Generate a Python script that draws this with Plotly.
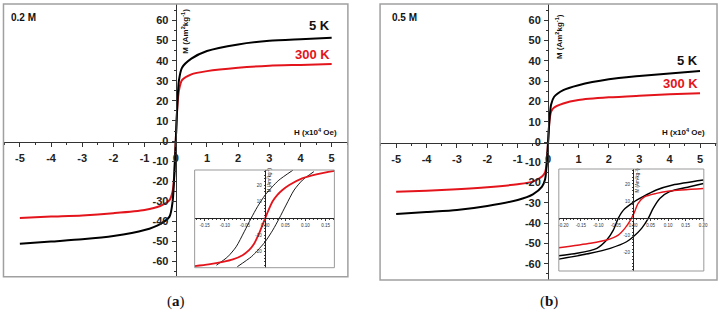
import plotly.graph_objects as go

W, H = 724, 313

# ---------------- data ----------------
H_main = [-5, -4, -3, -2, -1, -0.5, -0.2, -0.1, -0.05, 0, 0.05, 0.1, 0.2, 0.5, 1, 2, 3, 4, 5]
a_5K = [-51.1, -50.0, -48.9, -47.3, -44.3, -41.3, -37.6, -30.0, -18.0, 0, 18.0, 30.0, 36.5, 41.0, 44.8, 48.1, 49.9, 50.7, 51.4]
a_300K = [-38.3, -37.6, -37.0, -35.9, -34.3, -32.3, -29.4, -25.0, -17.0, 0, 17.0, 25.0, 30.3, 33.2, 34.8, 36.5, 37.5, 37.9, 38.3]
b_5K = [-35.5, -34.5, -33.5, -31.5, -28.6, -25.8, -22.0, -18.5, -12.0, 0, 12.0, 18.5, 22.3, 25.6, 28.0, 30.9, 32.5, 33.8, 35.0]
b_300K = [-24.5, -24.0, -23.3, -22.3, -20.8, -19.5, -17.0, -15.0, -11.0, 0, 11.0, 15.0, 17.0, 19.0, 20.7, 22.0, 22.8, 23.5, 24.0]
main_ticks = [-5, -4, -3, -2, -1, 0, 1, 2, 3, 4, 5]
main_yticks = [-60, -50, -40, -30, -20, -10, 0, 10, 20, 30, 40, 50, 60]

# inset (a): 5 K loop branches and 300 K curve
ia_5K_down_H = [0.069, 0.034, 0.018, 0.0, -0.019, -0.035, -0.052, -0.072, -0.093, -0.121]
ia_5K_down_M = [28.9, 22.9, 19.0, 14.0, 7.0, 0.0, -8.0, -17.0, -23.0, -28.0]
ia_5K_up_H = [-0.069, -0.034, -0.018, 0.0, 0.019, 0.035, 0.052, 0.072, 0.093, 0.121]
ia_5K_up_M = [-28.9, -22.9, -19.0, -14.0, -7.0, 0.0, 8.0, 17.0, 23.0, 28.0]
ia_300K_H = [-0.175, -0.14, -0.105, -0.08, -0.056, -0.04, -0.027, -0.015, -0.005, 0, 0.005, 0.018, 0.03, 0.043, 0.06, 0.092, 0.13, 0.172]
ia_300K_M = [-28.5, -27.5, -26.0, -24.5, -22.0, -19.0, -15.0, -9.0, -3.0, 0, 3.0, 10.0, 14.0, 17.0, 20.0, 24.0, 26.5, 28.5]

# inset (b)
ib_5K_down_H = [0.201, 0.113, 0.066, 0.028, 0.0, -0.028, -0.043, -0.057, -0.076, -0.104, -0.161, -0.213]
ib_5K_down_M = [22.3, 19.4, 16.5, 12.6, 9.3, 4.8, 0.0, -6.8, -12.6, -17.4, -20.3, -21.7]
ib_5K_up_H = [-0.213, -0.123, -0.066, -0.019, 0.0, 0.024, 0.043, 0.057, 0.076, 0.104, 0.161, 0.201]
ib_5K_up_M = [-23.7, -20.3, -17.4, -13.6, -10.7, -5.8, 0.0, 5.8, 11.6, 15.5, 18.4, 20.3]
ib_300K_H = [-0.213, -0.123, -0.076, -0.043, -0.024, -0.008, 0.002, 0.014, 0.033, 0.066, 0.104, 0.201]
ib_300K_M = [-17.1, -14.5, -12.6, -9.7, -5.8, -1.0, 2.9, 8.7, 12.6, 14.5, 15.9, 17.4]
ia_xt = [-0.15, -0.10, -0.05, 0.00, 0.05, 0.10, 0.15]
ib_xt = [-0.20, -0.15, -0.10, -0.05, 0.00, 0.05, 0.10, 0.15, 0.20]
inset_yt = [-20, -10, 10, 20]

BLACK = "#000000"
RED = "#e3141b"

def px(x):
    return x / W

def py(y):
    return 1 - y / H

fig = go.Figure()

def line(x, y, color, width, xa, ya, sm=0.7):
    fig.add_trace(go.Scatter(x=x, y=y, mode="lines", line=dict(color=color, width=width, shape="spline", smoothing=sm),
                             xaxis=xa, yaxis=ya, showlegend=False, hoverinfo="skip"))

line(H_main, a_300K, RED, 2, "x", "y")
line(H_main, a_5K, BLACK, 2, "x", "y")
line(ia_5K_down_H, ia_5K_down_M, BLACK, 0.9, "x2", "y2")
line(ia_5K_up_H, ia_5K_up_M, BLACK, 0.9, "x2", "y2")
line(ia_300K_H, ia_300K_M, RED, 1.8, "x2", "y2")
line(H_main, b_300K, RED, 2, "x3", "y3")
line(H_main, b_5K, BLACK, 2, "x3", "y3")
line(ib_5K_down_H, ib_5K_down_M, BLACK, 1.4, "x4", "y4")
line(ib_5K_up_H, ib_5K_up_M, BLACK, 1.4, "x4", "y4")
line(ib_300K_H, ib_300K_M, RED, 1.4, "x4", "y4")

TF = "Liberation Sans Narrow, Liberation Sans, Arial"
tickfont = dict(family=TF, size=11, color="#222", weight="bold")
smallfont = dict(family="Liberation Sans", size=4.5, color="#333")

def lab(v, fmt="%g"):
    return (fmt % v).replace("\u2212", "-")

def main_x(dom, rng, pos):
    return dict(domain=dom, range=rng, anchor="free", position=pos, showgrid=False, zeroline=False,
                showline=True, linecolor="#333", linewidth=1.3, ticks="outside", ticklen=4, tickwidth=1.2,
                tickcolor="#333", tickvals=main_ticks, ticktext=[lab(v) for v in main_ticks],
                tickfont=tickfont, ticklabelstandoff=2,
                minor=dict(ticks="outside", ticklen=2, dtick=0.5, tick0=0, tickcolor="#333"))

def main_y(dom, rng, pos):
    return dict(domain=dom, range=rng, anchor="free", position=pos, showgrid=False, zeroline=False,
                showline=True, linecolor="#333", linewidth=1.3, ticks="outside", ticklen=4, tickwidth=1.2,
                tickcolor="#333", tickvals=main_yticks, ticktext=[lab(v) for v in main_yticks],
                tickfont=tickfont, ticklabelstandoff=1,
                minor=dict(ticks="outside", ticklen=2, dtick=5, tick0=0, tickcolor="#333"))

def inset_x(dom, rng, pos, vals):
    return dict(domain=dom, range=rng, anchor="free", position=pos, showgrid=False, zeroline=False,
                showline=True, linecolor="#222", linewidth=1, ticks="outside", ticklen=1.5, tickwidth=0.6,
                tickvals=vals, ticktext=[lab(v, "%.2f") for v in vals], tickfont=smallfont, ticklabelstandoff=1,
                minor=dict(ticks="outside", ticklen=1, dtick=0.01, tick0=0))

def inset_y(dom, rng, pos, vals):
    return dict(domain=dom, range=rng, anchor="free", position=pos, showgrid=False, zeroline=False,
                showline=True, linecolor="#222", linewidth=1, ticks="outside", ticklen=1.5, tickwidth=0.6,
                tickvals=vals, ticktext=[lab(v) for v in vals], tickfont=smallfont, ticklabelstandoff=1,
                minor=dict(ticks="outside", ticklen=1, dtick=2, tick0=0))

fig.update_layout(
    width=W, height=H, margin=dict(l=0, r=0, t=0, b=0),
    paper_bgcolor="white", plot_bgcolor="white", showlegend=False,
    xaxis=main_x([px(2.5), px(349.3)], [-5.525, 5.52], py(142)),
    yaxis=main_y([py(276.7), py(4)], [-67.5, 68.2], px(176)),
    xaxis2=inset_x([px(195), px(335.7)], [-0.175, 0.172], py(218.3), ia_xt),
    yaxis2=inset_y([py(267.7), py(170)], [-29.5, 29], px(266), inset_yt),
    xaxis3=main_x([px(381.7), px(721)], [-5.53, 5.56], py(143)),
    yaxis3=main_y([py(280), py(4)], [-68, 68], px(551)),
    xaxis4=inset_x([px(561.7), px(707.7)], [-0.213, 0.202], py(218.3), ib_xt),
    yaxis4=inset_y([py(271), py(169)], [-30.6, 28.7], px(636.7), inset_yt),
)

# frames
for xa, ya, col, wd in [("x", "y", "#a0a0a0", 1.5), ("x3", "y3", "#a0a0a0", 1.5),
                        ("x2", "y2", "#999999", 1), ("x4", "y4", "#999999", 1)]:
    fig.add_shape(type="rect", xref=xa + " domain", yref=ya + " domain", x0=0, x1=1, y0=0, y1=1,
                  line=dict(color=col, width=wd), layer="above")

def ann(text, x, y, size, color="#111", xanchor="center", angle=0, family="Liberation Sans", weight="bold"):
    fig.add_annotation(text=text, x=px(x), y=py(y), xref="paper", yref="paper", showarrow=False,
                       xanchor=xanchor, yanchor="middle", textangle=angle,
                       font=dict(family=family, size=size, color=color, weight=weight))

# panel (a)
ann("0.2 M", 8, 18, 10, xanchor="left")
ann("5 K", 333, 26, 13, xanchor="right", family=TF)
ann("300 K", 333, 54, 13, color=RED, xanchor="right", family=TF)
ann("M (Am<sup>2</sup>kg<sup>-1</sup>)", 185, 31, 8, angle=-90, family=TF)
ann("H (x10<sup>4</sup> Oe)", 340, 132, 8, xanchor="right", family=TF)
ann("M (Am<sup>2</sup>kg<sup>-1</sup>)", 270, 180, 4.5, angle=-90, weight="normal")
ann("(<b>a</b>)", 176, 301, 15, family="Liberation Serif", weight="normal")

# panel (b)
ann("0.5 M", 392, 18, 10, xanchor="left")
ann("5 K", 704, 60, 13, xanchor="right", family=TF)
ann("300 K", 704, 84, 13, color=RED, xanchor="right", family=TF)
ann("M (Am<sup>2</sup>kg<sup>-1</sup>)", 562, 37, 8, angle=-90, family=TF)
ann("H (x10<sup>4</sup> Oe)", 711, 132, 8, xanchor="right", family=TF)
ann("M (Am<sup>2</sup>kg<sup>-1</sup>)", 641, 180, 4.5, angle=-90, weight="normal")
ann("(<b>b</b>)", 552, 301, 15, family="Liberation Serif", weight="normal")

fig.write_html("out.html", config={"displayModeBar": False},
               post_script="document.body.style.margin='0';document.body.style.overflow='hidden';")
